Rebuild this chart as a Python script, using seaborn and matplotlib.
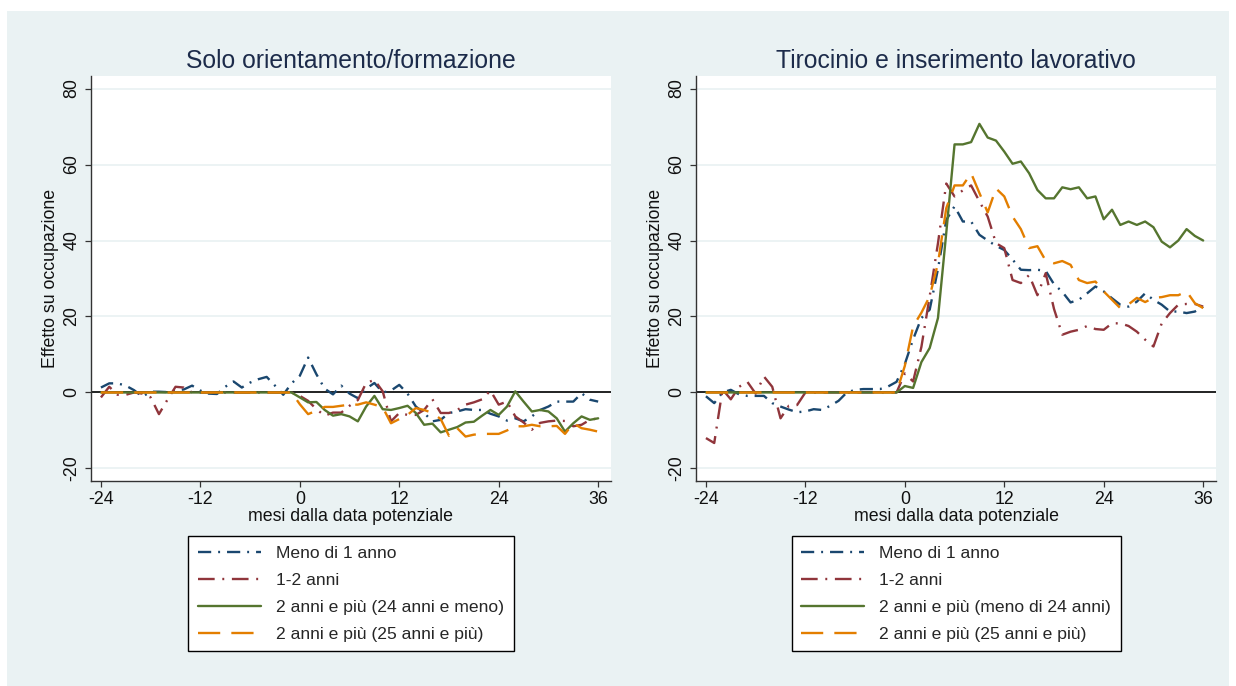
import numpy as np
import pandas as pd
import matplotlib
matplotlib.use("Agg")
import matplotlib.pyplot as plt
from matplotlib.patches import Rectangle
import seaborn as sns

sns.set_theme(style="white")
plt.rcParams['font.family'] = ['Liberation Sans', 'DejaVu Sans']
plt.rcParams['lines.scale_dashes'] = False
plt.rcParams['axes.unicode_minus'] = False

months = list(range(-24, 37))
xticks = [-24, -12, 0, 12, 24, 36]
yticks = [-20, 0, 20, 40, 60, 80]

titles = ["Solo orientamento/formazione", "Tirocinio e inserimento lavorativo"]
xlabel = "mesi dalla data potenziale"
ylabel = "Effetto su occupazione"
labels_left = ["Meno di 1 anno", "1-2 anni", "2 anni e più (24 anni e meno)", "2 anni e più (25 anni e più)"]
labels_right = ["Meno di 1 anno", "1-2 anni", "2 anni e più (meno di 24 anni)", "2 anni e più (25 anni e più)"]

# Left panel: Solo orientamento/formazione
left_meno1 = [1.3, 2.4, 2.4, 1.8, 0.6, -1.1, 0.2, 0.2, 0.1, 0.5, 0.8, 1.8, 0.5, -0.3, -0.4, 1.5,
              2.9, 1.3, 2.6, 3.5, 4.1, 1.8, -0.6, 2.4, 4.4, 9.2, 4.8, 1.0, -0.5, 1.8, -0.3, -1.5,
              1.0, 2.5, 0.0, 0.5, 2.0, -0.3, -3.7, -5.4, -7.6, -7.2, -5.4, -5.0, -4.4, -4.6, -4.6,
              -5.6, -6.3, -7.4, -6.8, -7.6, -6.3, -4.6, -3.7, -2.4, -2.4, -2.4, -0.2, -1.9, -2.4]
left_1_2 = [-1.3, 1.5, -0.6, -0.6, 0.0, -0.3, -1.3, -5.7, -2.0, 1.5, 1.3, 0.0, 0.0, 0.0, 0.0, 0.0,
            0.0, 0.0, 0.0, 0.0, 0.0, 0.0, 0.0, 0.0, -0.9, -2.2, -4.4, -6.1, -5.3, -5.3, -3.5, -2.0,
            2.5, 3.3, 0.3, -7.6, -5.4, -5.9, -5.9, -4.6, -1.8, -5.4, -5.4, -4.6, -3.2, -2.6, -1.8,
            0.5, -3.2, -2.4, -6.3, -7.9, -9.8, -8.0, -7.6, -7.4, -7.5, -8.9, -8.5, -7.2, -6.8]
left_2piu_young = [0.0] * 24 + [-1.3, -2.6, -2.5, -4.6, -6.1, -5.7, -6.3, -7.6, -3.7, -0.9, -4.4,
                                -4.6, -4.1, -3.5, -5.4, -8.5, -8.2, -10.5, -9.8, -9.1, -7.9, -7.7,
                                -6.1, -4.6, -5.9, -3.7, 0.3, -2.4, -5.0, -4.6, -5.0, -6.8, -10.3,
                                -8.1, -6.3, -7.2, -6.8]
left_2piu_old = [0.0] * 24 + [-3.1, -5.7, -4.8, -3.8, -3.8, -3.5, -3.2, -3.2, -2.6, -3.2, -3.9,
                              -8.1, -7.0, -5.9, -4.1, -4.6, -5.4, -7.0, -11.4, -9.4, -11.6, -11.1,
                              -10.9, -10.9, -10.9, -10.0, -8.9, -8.9, -8.5, -8.9, -8.9, -8.8, -10.9,
                              -8.1, -9.4, -9.8, -10.3]

# Right panel: Tirocinio e inserimento lavorativo
right_meno1 = [-1.0, -2.8, 0.0, 0.7, -0.5, -0.9, -0.9, -0.9, -2.8, -3.7, -4.5, -5.2, -5.0, -4.4,
               -4.6, -3.5, -2.2, 0.0, 0.7, 0.9, 0.9, 0.9, 1.6, 2.8, 7.5, 14.0, 19.6, 21.8, 32.5,
               45.4, 49.0, 45.0, 45.0, 41.5, 40.0, 38.6, 37.5, 35.0, 32.3, 32.2, 32.3, 32.0, 28.5,
               26.5, 23.7, 24.4, 26.1, 27.9, 26.6, 24.8, 23.1, 22.6, 23.9, 26.1, 24.4, 23.1, 21.3,
               21.3, 20.9, 21.3, 22.6]
right_1_2 = [-12.0, -13.3, 0.8, -1.8, 1.5, 2.8, -0.3, 4.2, 1.5, -6.8, -3.5, -3.3, 0.0, 0.0, 0.0,
             0.0, 0.0, 0.0, 0.0, 0.0, 0.0, 0.0, 0.0, 0.0, 5.0, 2.9, 12.0, 25.3, 39.3, 55.0, 51.6,
             53.2, 54.5, 50.3, 46.3, 39.3, 38.0, 29.6, 28.8, 30.9, 25.6, 31.4, 22.0, 15.2, 16.0,
             16.5, 17.5, 16.7, 16.5, 18.2, 18.2, 17.5, 16.0, 13.9, 12.1, 18.2, 20.9, 23.1, 23.3,
             23.3, 22.6]
right_2piu_young = [0.0] * 24 + [1.7, 1.2, 8.0, 11.7, 19.6, 42.0, 65.3, 65.3, 65.9, 70.7, 67.1,
                                 66.3, 63.4, 60.2, 60.8, 57.7, 53.3, 51.1, 51.1, 54.0, 53.5, 54.0,
                                 51.1, 51.6, 45.6, 48.1, 44.1, 45.0, 44.1, 45.0, 43.5, 39.7, 38.2,
                                 40.0, 43.0, 41.2, 40.0]
right_2piu_old = [0.0] * 24 + [7.0, 17.4, 21.0, 25.3, 34.0, 48.5, 54.5, 54.5, 57.7, 52.5, 47.4,
                               53.7, 51.6, 46.3, 43.0, 38.0, 38.5, 34.7, 34.0, 34.6, 33.6, 29.6,
                               28.8, 29.2, 26.6, 24.4, 22.2, 23.2, 24.9, 23.8, 24.9, 25.1, 25.6,
                               25.6, 26.6, 23.5, 22.2]

colors = ["#1a476f", "#90353b", "#55752f", "#e37e00"]
styles = [(0, (9.5, 5.0, 1.4, 5.0)),
          (0, (12.0, 5.5, 1.4, 5.5)),
          "-",
          (0, (16.0, 8.0))]

W, H = 1236, 686
fig = plt.figure(figsize=(W / 100, H / 100), dpi=100, facecolor="white")
fig.patches.append(Rectangle((7 / W, 0), (1229 - 7) / W, (H - 11) / H,
                             transform=fig.transFigure, facecolor="#eaf2f3",
                             edgecolor="none", zorder=-10))

panels = [
    (91, titles[0], [left_meno1, left_1_2, left_2piu_young, left_2piu_old], labels_left),
    (696, titles[1], [right_meno1, right_1_2, right_2piu_young, right_2piu_old], labels_right),
]

for x0, title, series, labels in panels:
    ax = fig.add_axes([x0 / W, 1 - 481 / H, 520 / W, 405 / H])
    ax.set_facecolor("white")
    for vals, lab, col, ls in zip(series, labels, colors, styles):
        df = pd.DataFrame({"mese": months, "effetto": vals})
        sns.lineplot(data=df, x="mese", y="effetto", ax=ax, color=col, linestyle=ls,
                     linewidth=1.7, label=lab, estimator=None, legend=False, zorder=3)
    ax.axhline(0, color="black", linewidth=1.2, zorder=2)
    ax.set_xlim(-25.2, 37.55)
    ax.set_ylim(-23.3, 83.3)
    ax.set_xticks(xticks)
    ax.set_yticks(yticks)
    ax.set_yticklabels([str(v) for v in yticks], rotation=90, va="center")
    ax.grid(axis="y", color="#eaf2f3", linewidth=1.3, zorder=0)
    ax.set_axisbelow(True)
    for s in ["top", "right"]:
        ax.spines[s].set_visible(False)
    for s in ["left", "bottom"]:
        ax.spines[s].set_color("#333333")
        ax.spines[s].set_linewidth(1.0)
    ax.tick_params(axis="both", which="major", direction="out", length=4.5, width=0.9,
                   color="#333333", labelsize=12.8, labelcolor="#111111", pad=3,
                   bottom=True, left=True)
    ax.set_title(title, fontsize=17.8, color="#1c2b4a", pad=6)
    ax.set_xlabel(xlabel, fontsize=12.8, color="#111111", labelpad=0)
    ax.set_ylabel(ylabel, fontsize=12.8, color="#111111", labelpad=3)
    handles = ax.get_lines()[:4]
    leg = ax.legend(handles, labels, loc="upper center", bbox_to_anchor=(0.5, -0.137),
                    ncol=1, fontsize=12.6, frameon=True, fancybox=False, edgecolor="black",
                    framealpha=1, facecolor="white", handlelength=3.6, handletextpad=0.85,
                    labelspacing=0.66, borderpad=0.55, borderaxespad=0)
    leg.get_frame().set_linewidth(1.0)

fig.savefig("out.png", dpi=100, facecolor=fig.get_facecolor())
